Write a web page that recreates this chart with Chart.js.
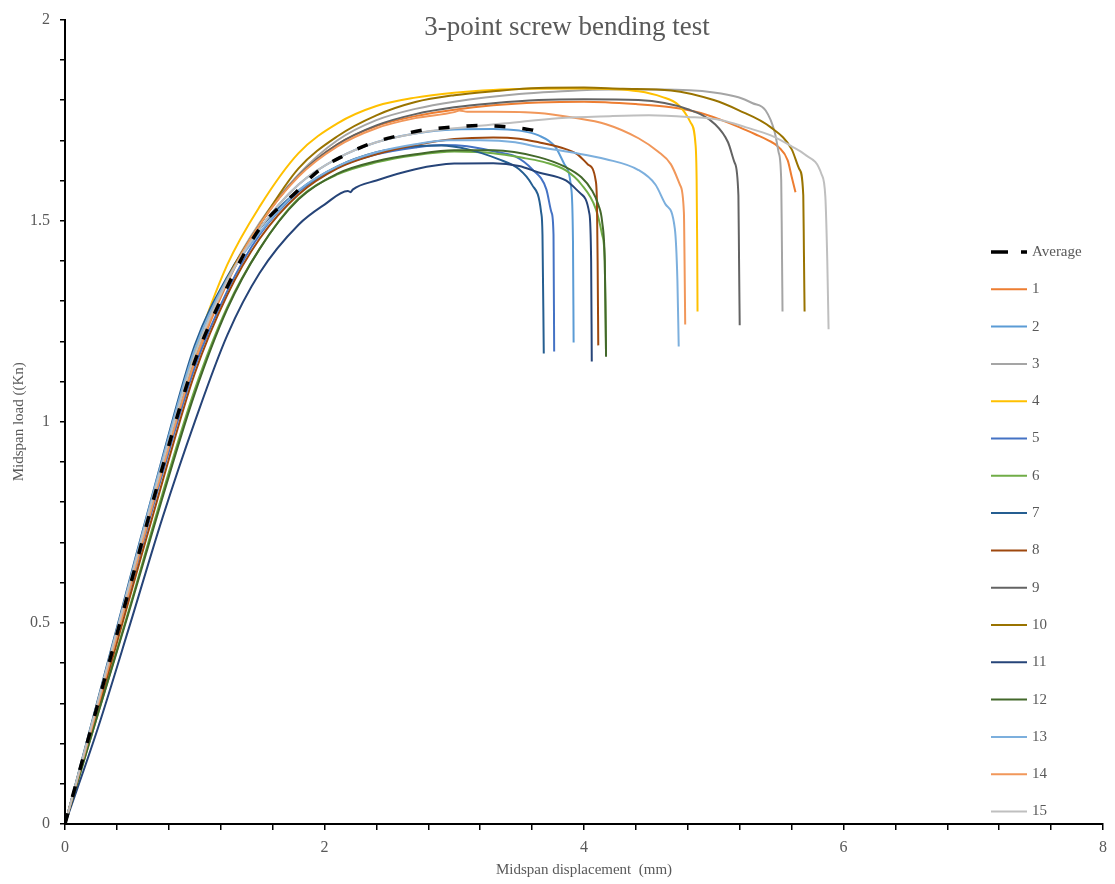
<!DOCTYPE html>
<html>
<head>
<meta charset="utf-8">
<title>3-point screw bending test</title>
<script src="https://cdn.jsdelivr.net/npm/chart.js@4.4.0/dist/chart.umd.min.js"></script>
<style>
  html, body { margin: 0; padding: 0; background: #fff; }
</style>
</head>
<body>
<canvas id="bendChart" width="1115" height="884"></canvas>
<script>
// Midspan displacement (mm) / midspan load (kN) for each screw specimen

const dispAvg = [0, 0.25, 0.5, 0.75, 1.0, 1.25, 1.5, 1.78, 1.96, 2.15, 2.34, 2.55, 2.75, 3.0, 3.19, 3.42, 3.55, 3.63, 3.67];
const loadAvg = [0, 0.295, 0.59, 0.885, 1.15, 1.335, 1.48, 1.571, 1.626, 1.662, 1.69, 1.71, 1.725, 1.733, 1.737, 1.733, 1.728, 1.722, 1.712];

const disp1 = [0, 0.25, 0.5, 0.75, 1.0, 1.25, 1.5, 1.8, 2.1, 2.4, 2.7, 3.0, 3.3, 3.65, 4.0, 4.4, 4.67, 4.9, 5.06, 5.2, 5.32, 5.42, 5.5, 5.57, 5.6, 5.63];
const load1 = [0, 0.29, 0.585, 0.875, 1.145, 1.345, 1.49, 1.612, 1.69, 1.735, 1.76, 1.776, 1.787, 1.794, 1.796, 1.79, 1.782, 1.768, 1.75, 1.732, 1.715, 1.70, 1.683, 1.65, 1.61, 1.571];

const disp2 = [0, 0.25, 0.5, 0.75, 1.0, 1.25, 1.5, 1.8, 2.1, 2.4, 2.7, 3.0, 3.3, 3.5, 3.65, 3.78, 3.85, 3.9, 3.915, 3.92];
const load2 = [0, 0.30, 0.60, 0.895, 1.165, 1.35, 1.48, 1.59, 1.655, 1.695, 1.717, 1.727, 1.728, 1.724, 1.712, 1.683, 1.64, 1.584, 1.45, 1.197];

const disp3 = [0, 0.25, 0.5, 0.75, 1.0, 1.25, 1.5, 1.8, 2.1, 2.4, 2.7, 3.0, 3.5, 3.8, 4.2, 4.6, 5.0, 5.19, 5.3, 5.4, 5.47, 5.5, 5.52, 5.525, 5.53];
const load3 = [0, 0.295, 0.59, 0.885, 1.155, 1.355, 1.495, 1.615, 1.70, 1.75, 1.778, 1.796, 1.815, 1.821, 1.826, 1.826, 1.819, 1.807, 1.792, 1.774, 1.72, 1.67, 1.60, 1.45, 1.274];

const disp4 = [0, 0.25, 0.5, 0.75, 1.0, 1.25, 1.5, 1.8, 2.1, 2.4, 2.7, 3.0, 3.3, 3.6, 4.0, 4.42, 4.6, 4.73, 4.82, 4.86, 4.868, 4.872, 4.875];
const load4 = [0, 0.30, 0.60, 0.90, 1.175, 1.39, 1.535, 1.668, 1.742, 1.785, 1.806, 1.818, 1.825, 1.828, 1.829, 1.822, 1.808, 1.787, 1.745, 1.688, 1.603, 1.45, 1.274];

const disp5 = [0, 0.25, 0.5, 0.75, 1.0, 1.25, 1.5, 1.8, 2.1, 2.4, 2.7, 2.9, 3.1, 3.34, 3.47, 3.6, 3.71, 3.75, 3.765, 3.77];
const load5 = [0, 0.29, 0.58, 0.87, 1.135, 1.325, 1.465, 1.572, 1.632, 1.665, 1.682, 1.688, 1.685, 1.67, 1.66, 1.628, 1.578, 1.52, 1.465, 1.175];

const disp6 = [0, 0.25, 0.5, 0.75, 1.0, 1.25, 1.5, 1.8, 2.1, 2.4, 2.7, 3.0, 3.3, 3.55, 3.7, 3.86, 3.98, 4.09, 4.14, 4.16, 4.17];
const load6 = [0, 0.27, 0.54, 0.82, 1.08, 1.285, 1.43, 1.555, 1.615, 1.645, 1.663, 1.672, 1.668, 1.655, 1.645, 1.625, 1.59, 1.53, 1.465, 1.40, 1.165];

const disp7 = [0, 0.25, 0.5, 0.75, 1.0, 1.25, 1.5, 1.8, 2.1, 2.4, 2.7, 2.9, 3.1, 3.34, 3.5, 3.6, 3.67, 3.68, 3.69];
const load7 = [0, 0.305, 0.61, 0.91, 1.19, 1.36, 1.48, 1.575, 1.635, 1.67, 1.685, 1.687, 1.678, 1.653, 1.628, 1.589, 1.52, 1.465, 1.17];

const disp8 = [0, 0.25, 0.5, 0.75, 1.0, 1.25, 1.5, 1.8, 2.1, 2.4, 2.7, 3.0, 3.3, 3.5, 3.65, 3.86, 3.95, 4.03, 4.09, 4.10, 4.105, 4.11];
const load8 = [0, 0.28, 0.565, 0.85, 1.12, 1.315, 1.455, 1.565, 1.63, 1.665, 1.688, 1.703, 1.707, 1.704, 1.695, 1.678, 1.665, 1.64, 1.60, 1.54, 1.40, 1.19];

const disp9 = [0, 0.25, 0.5, 0.75, 1.0, 1.25, 1.5, 1.8, 2.1, 2.4, 2.7, 3.0, 3.3, 3.65, 4.0, 4.42, 4.8, 5.01, 5.11, 5.16, 5.19, 5.195, 5.2];
const load9 = [0, 0.295, 0.59, 0.885, 1.155, 1.35, 1.49, 1.612, 1.69, 1.737, 1.765, 1.782, 1.792, 1.80, 1.802, 1.80, 1.777, 1.74, 1.695, 1.645, 1.563, 1.40, 1.24];

const disp10 = [0, 0.25, 0.5, 0.75, 1.0, 1.25, 1.5, 1.8, 2.1, 2.4, 2.7, 3.0, 3.3, 3.65, 4.0, 4.3, 4.67, 5.0, 5.19, 5.44, 5.6, 5.66, 5.69, 5.695, 5.70];
const load10 = [0, 0.295, 0.59, 0.885, 1.155, 1.355, 1.49, 1.63, 1.71, 1.762, 1.795, 1.812, 1.822, 1.83, 1.831, 1.828, 1.824, 1.80, 1.775, 1.732, 1.678, 1.628, 1.563, 1.42, 1.274];

const disp11 = [0, 0.25, 0.5, 0.75, 1.0, 1.25, 1.5, 1.8, 2.0, 2.18, 2.2, 2.22, 2.4, 2.7, 3.0, 3.3, 3.5, 3.65, 3.86, 3.98, 4.04, 4.055, 4.06];
const load11 = [0, 0.235, 0.495, 0.76, 1.0, 1.215, 1.37, 1.49, 1.54, 1.574, 1.571, 1.578, 1.60, 1.628, 1.642, 1.643, 1.636, 1.62, 1.60, 1.566, 1.52, 1.40, 1.15];

const disp12 = [0, 0.25, 0.5, 0.75, 1.0, 1.25, 1.5, 1.8, 2.1, 2.4, 2.7, 3.0, 3.3, 3.65, 3.86, 3.98, 4.06, 4.11, 4.14, 4.16, 4.165, 4.17];
const load12 = [0, 0.27, 0.535, 0.81, 1.07, 1.28, 1.43, 1.553, 1.617, 1.648, 1.665, 1.675, 1.675, 1.658, 1.633, 1.608, 1.576, 1.54, 1.497, 1.40, 1.30, 1.162];

const disp13 = [0, 0.25, 0.5, 0.75, 1.0, 1.25, 1.5, 1.8, 2.1, 2.4, 2.7, 2.96, 3.2, 3.47, 3.65, 3.9, 4.17, 4.42, 4.55, 4.63, 4.70, 4.72, 4.73];
const load13 = [0, 0.30, 0.605, 0.905, 1.18, 1.355, 1.47, 1.575, 1.635, 1.67, 1.69, 1.70, 1.70, 1.695, 1.683, 1.67, 1.653, 1.626, 1.59, 1.54, 1.48, 1.35, 1.187];

const disp14 = [0, 0.25, 0.5, 0.75, 1.0, 1.25, 1.5, 1.8, 2.1, 2.4, 2.7, 3.0, 3.04, 3.1, 3.3, 3.65, 3.9, 4.17, 4.42, 4.57, 4.67, 4.74, 4.77, 4.775, 4.78];
const load14 = [0, 0.29, 0.585, 0.88, 1.15, 1.35, 1.49, 1.61, 1.685, 1.73, 1.755, 1.77, 1.774, 1.771, 1.771, 1.768, 1.757, 1.74, 1.705, 1.672, 1.64, 1.589, 1.52, 1.40, 1.242];

const disp15 = [0, 0.25, 0.5, 0.75, 1.0, 1.25, 1.5, 1.8, 2.1, 2.4, 2.7, 3.0, 3.4, 3.8, 4.2, 4.5, 4.8, 5.06, 5.25, 5.44, 5.6, 5.70, 5.83, 5.86, 5.875, 5.885];
const load15 = [0, 0.30, 0.60, 0.895, 1.165, 1.35, 1.48, 1.59, 1.655, 1.695, 1.717, 1.73, 1.742, 1.755, 1.76, 1.762, 1.758, 1.75, 1.732, 1.712, 1.685, 1.665, 1.616, 1.56, 1.40, 1.23];

const seriesNames = ['Average', '1', '2', '3', '4', '5', '6', '7', '8', '9', '10', '11', '12', '13', '14', '15'];
const seriesDisp = [dispAvg, disp1, disp2, disp3, disp4, disp5, disp6, disp7, disp8, disp9, disp10, disp11, disp12, disp13, disp14, disp15];
const seriesLoad = [loadAvg, load1, load2, load3, load4, load5, load6, load7, load8, load9, load10, load11, load12, load13, load14, load15];
const seriesColors = ['#000000', '#ED7D31', '#5B9BD5', '#A5A5A5', '#FFC000', '#4472C4', '#70AD47', '#255E91',
                      '#9E480E', '#636363', '#997300', '#264478', '#43682B', '#7CAFDD', '#F1975A', '#BFBFBF'];

const xTickLabels = [0, 2, 4, 6, 8];
const yTickLabels = [0, 0.5, 1, 1.5, 2];

const chartTitle = '3-point screw bending test';
const textGrey = '#595959';
const serif = '"Liberation Serif", "Times New Roman", serif';

function labelIfListed(list) {
    return (value) => list.some(v => Math.abs(v - value) < 1e-9) ? String(value) : '';
}

const datasets = seriesNames.map((name, i) => ({
    label: name,
    data: seriesDisp[i].map((x, j) => ({ x: x, y: seriesLoad[i][j] })),
    borderColor: seriesColors[i],
    backgroundColor: seriesColors[i],
    borderWidth: i === 0 ? 3.5 : 2,
    borderDash: i === 0 ? [11, 17] : [],
    pointRadius: 0,
    fill: false,
    cubicInterpolationMode: 'monotone',
    order: i === 0 ? 0 : 16 - i   // later specimens on top, average above all
}));

// Title and the in-plot legend column
const overlayPlugin = {
    id: 'overlay',
    afterDraw(chart) {
        const ctx = chart.ctx;
        const area = chart.chartArea;
        ctx.save();

        ctx.font = '27px ' + serif;
        ctx.fillStyle = textGrey;
        ctx.textAlign = 'center';
        ctx.textBaseline = 'middle';
        ctx.fillText(chartTitle, 567, 28);

        const lineX0 = area.right - 112;
        const lineX1 = area.right - 76;
        const rowTop = 252;
        const rowStep = 37.3;
        ctx.font = '15px ' + serif;
        ctx.textAlign = 'left';
        chart.data.datasets.forEach((ds, i) => {
            const y = rowTop + i * rowStep;
            ctx.beginPath();
            ctx.strokeStyle = ds.borderColor;
            ctx.lineWidth = ds.borderWidth;
            ctx.setLineDash(i === 0 ? [17, 13] : []);
            ctx.moveTo(lineX0, y);
            ctx.lineTo(lineX1, y);
            ctx.stroke();
            ctx.setLineDash([]);
            ctx.fillStyle = textGrey;
            ctx.fillText(ds.label, lineX1 + 5, y);
        });
        ctx.restore();
    }
};

new Chart(document.getElementById('bendChart'), {
    type: 'line',
    data: { datasets: datasets },
    plugins: [overlayPlugin],
    options: {
        responsive: false,
        animation: false,
        events: [],
        layout: { padding: { top: 17, right: 9, left: 0, bottom: 0 } },
        plugins: {
            legend: { display: false },
            title: { display: false },
            tooltip: { enabled: false }
        },
        scales: {
            x: {
                type: 'linear',
                min: 0,
                max: 8,
                afterFit: (scale) => { scale.height = 60; },
                border: { display: true, color: '#000', width: 2 },
                grid: { drawOnChartArea: false, drawTicks: true, tickLength: 6, color: '#000', lineWidth: 1.5 },
                ticks: {
                    stepSize: 0.4,
                    autoSkip: false,
                    maxRotation: 0,
                    padding: 8,
                    color: textGrey,
                    font: { family: serif, size: 16 },
                    callback: labelIfListed(xTickLabels)
                },
                title: {
                    display: true,
                    text: 'Midspan displacement  (mm)',
                    color: textGrey,
                    font: { family: serif, size: 15 },
                    padding: { top: 0, bottom: 5 }
                }
            },
            y: {
                type: 'linear',
                min: 0,
                max: 2,
                afterFit: (scale) => { scale.width = 65; },
                border: { display: true, color: '#000', width: 2 },
                grid: { drawOnChartArea: false, drawTicks: true, tickLength: 5, color: '#000', lineWidth: 1.5 },
                ticks: {
                    stepSize: 0.1,
                    autoSkip: false,
                    padding: 10,
                    color: textGrey,
                    font: { family: serif, size: 16 },
                    callback: labelIfListed(yTickLabels)
                },
                title: {
                    display: true,
                    text: 'Midspan load ((Kn)',
                    color: textGrey,
                    font: { family: serif, size: 15 },
                    padding: { top: 10, bottom: 0 }
                }
            }
        }
    }
});
</script>
</body>
</html>
